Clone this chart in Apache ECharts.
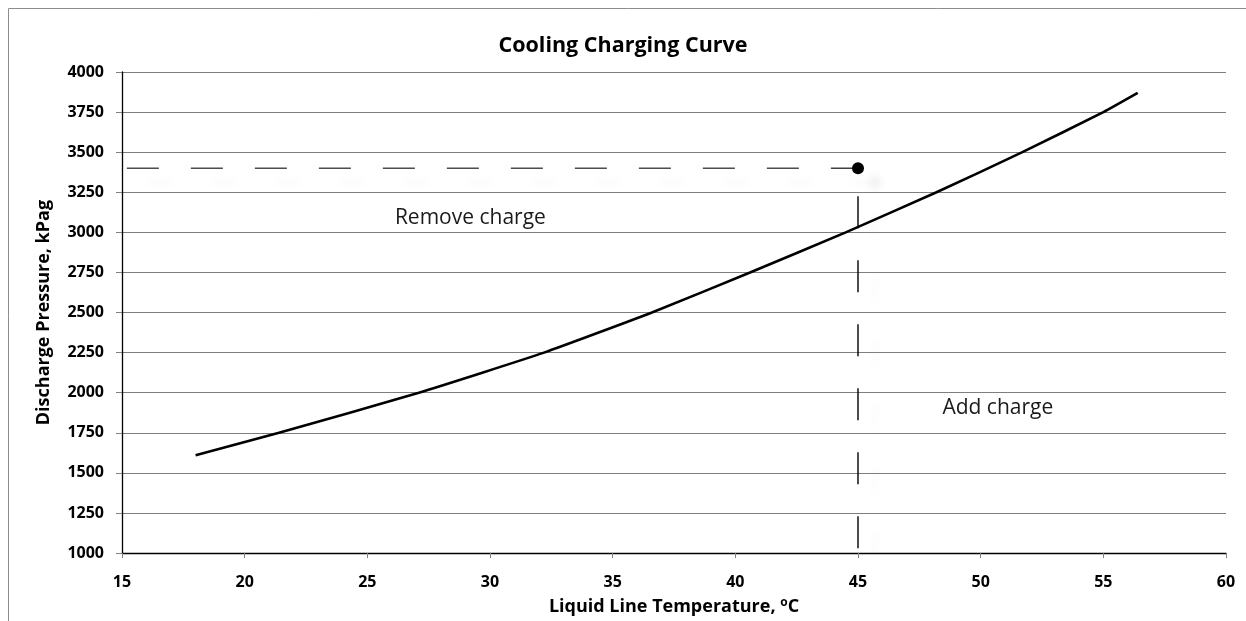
<!DOCTYPE html>
<html>
<head>
<meta charset="utf-8">
<script src="https://cdn.jsdelivr.net/npm/echarts@6/dist/echarts.min.js"></script>
<style>
  html, body { margin: 0; padding: 0; background: #fff; }
  #chart { width: 1246px; height: 621px; }
</style>
</head>
<body>
<div id="chart"></div>
<script>
// charging curve
const temps = [18, 21.4, 27.1, 32.2, 36.6, 40.6, 44.5, 48.2, 51.7, 55.0, 56.4];
const pressures = [1610, 1750, 2000, 2250, 2500, 2750, 3000, 3250, 3500, 3750, 3870];

// target point and its guide lines
const targetTemp = 45;
const targetPressure = 3400;
const hGuideStart = 15.2;
const vGuideTop = 3225;
const vGuideBottom = 1000;

// region labels: [temp, pressure, text]
const notes = [
  [29.2, 3090, 'Remove charge'],
  [50.7, 1905, 'Add charge']
];

const xTicks = { min: 15, max: 60, interval: 5 };
const yTicks = { min: 1000, max: 4000, interval: 250 };

const font = '"Open Sans", "Noto Sans", sans-serif';
const shadow = {
  shadowColor: 'rgba(0,0,0,0.07)',
  shadowBlur: 8,
  shadowOffsetX: 17,
  shadowOffsetY: 14
};

const chart = echarts.init(document.getElementById('chart'));
chart.setOption({
  animation: false,
  backgroundColor: '#fff',
  textStyle: { fontFamily: font },
  title: {
    text: 'Cooling Charging Curve',
    left: 'center',
    top: 30,
    textStyle: { fontFamily: font, fontSize: 21.5, fontWeight: 'bold', color: '#000' }
  },
  graphic: [{
    type: 'rect',
    left: 6,
    top: 6,
    shape: { width: 1400, height: 800 },
    style: { fill: 'none', stroke: '#8c8c8c', lineWidth: 1 },
    silent: true
  }],
  grid: { left: 122, right: 20, top: 72, bottom: 67 },
  xAxis: {
    type: 'value',
    min: xTicks.min,
    max: xTicks.max,
    interval: xTicks.interval,
    name: '{n|Liquid Line Temperature, }{s|o}{n|C}',
    nameLocation: 'middle',
    nameGap: 35,
    nameTextStyle: {
      rich: {
        n: { fontFamily: font, fontSize: 18, fontWeight: 'bold', color: '#000', lineHeight: 24 },
        s: { fontFamily: font, fontSize: 12, fontWeight: 'bold', color: '#000', lineHeight: 12, verticalAlign: 'top', padding: [2, 0, 0, 0] }
      }
    },
    axisLine: { lineStyle: { color: '#000', width: 1.3 } },
    axisTick: { show: true, length: 5, lineStyle: { color: '#808080' } },
    axisLabel: { margin: 21, fontSize: 16, fontWeight: 'bold', color: '#000' },
    splitLine: { show: false }
  },
  yAxis: {
    type: 'value',
    min: yTicks.min,
    max: yTicks.max,
    interval: yTicks.interval,
    name: 'Discharge Pressure, kPag',
    nameLocation: 'middle',
    nameGap: 69,
    nameTextStyle: { fontFamily: font, fontSize: 18, fontWeight: 'bold', color: '#000' },
    axisLine: { show: true, lineStyle: { color: '#000', width: 1.3 } },
    axisTick: { show: true, length: 6, lineStyle: { color: '#808080' } },
    axisLabel: { margin: 18, fontSize: 16, fontWeight: 'bold', color: '#000', formatter: v => String(v) },
    splitLine: { show: true, lineStyle: { color: '#7f7f7f', width: 1 } }
  },
  series: [
    {
      name: 'curve',
      type: 'line',
      data: temps.map((t, i) => [t, pressures[i]]),
      showSymbol: false,
      smooth: 0.15,
      lineStyle: { color: '#000', width: 2.6 },
      z: 5
    },
    {
      name: 'hGuide',
      type: 'line',
      data: [[hGuideStart, targetPressure], [targetTemp, targetPressure]],
      showSymbol: false,
      lineStyle: Object.assign({ color: '#404040', width: 1.4, type: [32, 32] }, shadow),
      z: 4
    },
    {
      name: 'vGuide',
      type: 'line',
      data: [[targetTemp, vGuideTop], [targetTemp, vGuideBottom]],
      showSymbol: false,
      lineStyle: Object.assign({ color: '#000', width: 1.4, type: [32, 32] }, shadow),
      z: 4
    },
    {
      name: 'target',
      type: 'scatter',
      data: [[targetTemp, targetPressure]],
      symbol: 'circle',
      symbolSize: 12,
      itemStyle: Object.assign({ color: '#000', opacity: 1 }, shadow),
      z: 6
    },
    {
      name: 'notes',
      type: 'scatter',
      data: notes.map(n => ({ value: [n[0], n[1]], name: n[2] })),
      symbolSize: 0,
      silent: true,
      itemStyle: { opacity: 1 },
      label: {
        show: true,
        position: 'inside',
        formatter: p => p.name,
        fontFamily: font,
        fontSize: 21,
        color: '#1a1a1a'
      }
    }
  ]
});
</script>
</body>
</html>
